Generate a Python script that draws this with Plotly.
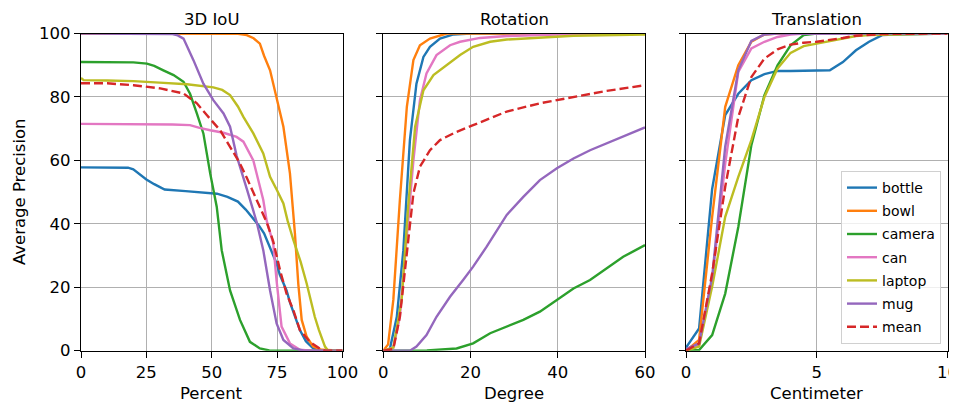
import plotly.graph_objects as go

# ---------------- data ----------------
NAMES = ["bottle", "bowl", "camera", "can", "laptop", "mug", "mean"]
COLORS = ["#1f77b4", "#ff7f0e", "#2ca02c", "#e377c2", "#bcbd22", "#9467bd", "#d62728"]

PANEL_TITLES = ["3D IoU", "Rotation", "Translation"]
X_TITLES = ["Percent", "Degree", "Centimeter"]
Y_TITLE = "Average Precision"

X_TICKS_IOU = [0, 25, 50, 75, 100]
X_TICKS_ROT = [0, 20, 40, 60]
X_TICKS_TRANS = [0, 5, 10]
Y_TICKS = [0, 20, 40, 60, 80, 100]

# Panel 1: 3D IoU
IOU_BOTTLE_X = [0, 10, 18, 20, 22, 25, 28, 32, 40, 50, 52, 56, 60, 63, 65.3, 68, 70, 72, 74.8, 76, 78.6, 80, 82, 83.7, 86, 88.8, 92, 100]
IOU_BOTTLE_Y = [57.8, 57.8, 57.7, 57.2, 56, 54, 52.5, 50.8, 50.3, 49.8, 49.5, 48.5, 47, 44.5, 42.2, 39.5, 37, 33, 27.5, 24, 19, 15, 10, 6.5, 3, 0.7, 0.1, 0]
IOU_BOWL_X = [0, 55, 60, 63.4, 66, 68.4, 70, 72.3, 74.8, 77.4, 79.9, 81.8, 83.1, 84.4, 86.3, 88.8, 92, 100]
IOU_BOWL_Y = [100, 100, 99.9, 99.5, 98.5, 96.8, 93, 88.4, 80, 70.6, 55.9, 37, 21, 9.7, 4.4, 1.3, 0.3, 0]
IOU_CAMERA_X = [0, 15, 20, 25.2, 28, 31.5, 35.4, 39.2, 41.7, 44.3, 46.8, 49.4, 51.9, 53.8, 57, 60.8, 64.6, 68.4, 72, 100]
IOU_CAMERA_Y = [91, 91, 90.9, 90.5, 89.8, 88.4, 86.9, 84.8, 81, 74.8, 68.5, 55.9, 45.4, 31.7, 19, 9.7, 2.8, 0.7, 0.1, 0]
IOU_CAN_X = [0, 20, 35, 41.7, 45, 49.4, 54.5, 59.5, 62.1, 65.9, 68.4, 69.7, 71, 73.5, 74.8, 76.7, 79.9, 83.7, 88, 100]
IOU_CAN_Y = [71.5, 71.5, 71.3, 71.1, 70.3, 69.5, 68.7, 67.4, 65.9, 60, 51.7, 47.5, 41, 33.9, 22, 7.6, 2.3, 0.3, 0, 0]
IOU_LAPTOP_X = [0, 1, 10, 20.1, 30, 40.5, 50.6, 54, 57, 60, 62.1, 65.9, 69.7, 72.3, 75, 77.4, 79, 81.2, 84, 86.3, 89.4, 91, 93.3, 94.5, 100]
IOU_LAPTOP_Y = [86, 85.3, 85.2, 85, 84.5, 84, 83, 82.2, 80.6, 77, 73.7, 68.5, 62.2, 54.8, 50.5, 46.4, 41, 34.9, 28, 21.2, 10.7, 6.5, 1.3, 0, 0]
IOU_MUG_X = [0, 30, 35, 37, 39.2, 43, 46.8, 50.6, 54.5, 57, 59.5, 63.4, 67.2, 69.7, 72.3, 74.8, 77.4, 81.2, 85, 100]
IOU_MUG_Y = [100, 100, 99.8, 99.4, 98.4, 91.6, 84.2, 79, 74.8, 70.6, 61.5, 51, 40.5, 31.7, 19, 8.6, 3.4, 0.7, 0.1, 0]
IOU_MEAN_X = [0, 10, 20.1, 30.3, 39.2, 44.3, 48.1, 53.2, 58.3, 60.8, 63.4, 68.4, 71, 73.5, 76.1, 78.6, 81.2, 83.7, 87.5, 91.3, 93.3, 100]
IOU_MEAN_Y = [84.3, 84.3, 83.7, 82.7, 81.1, 78, 74.3, 69.5, 62.5, 59, 54.5, 45.5, 40.5, 34.5, 25.4, 18, 12.8, 6.5, 2.8, 0.7, 0, 0]

# Panel 2: Rotation
ROT_BOTTLE_X = [0, 1.5, 3.1, 4.6, 6.1, 7.6, 9.2, 10.7, 13, 16.1, 20, 60]
ROT_BOTTLE_Y = [0, 0.5, 10.7, 31.7, 66.4, 84.2, 92.6, 95.8, 98.4, 99.7, 100, 100]
ROT_BOWL_X = [0, 1.1, 2.3, 3.8, 5.4, 6.9, 8.4, 10.7, 14.5, 60]
ROT_BOWL_Y = [0, 2, 16, 47.5, 76.9, 91.6, 96.3, 98.4, 100, 100]
ROT_CAMERA_X = [0, 10, 16.8, 20.6, 24.5, 28.3, 32.1, 35.9, 39.8, 43.6, 47.4, 51.2, 55, 60]
ROT_CAMERA_Y = [0, 0.1, 0.7, 2.3, 5.5, 7.6, 9.7, 12.3, 16, 19.6, 22.3, 25.9, 29.6, 33.3]
ROT_CAN_X = [0, 2.3, 3.8, 5.4, 6.9, 8.4, 9.9, 12.2, 15.3, 17.6, 22.2, 28.3, 40, 60]
ROT_CAN_Y = [0, 1, 10.7, 34.9, 60, 79, 87.4, 93.2, 96.3, 97.4, 98.6, 99.2, 99.7, 100]
ROT_LAPTOP_X = [0, 2.3, 4.2, 5.7, 7.3, 9.2, 11.5, 14.5, 17.6, 20.6, 24.5, 28.3, 35.9, 43.6, 60]
ROT_LAPTOP_Y = [0, 1, 16, 45.4, 70.6, 82.1, 86.9, 90, 93.2, 95.8, 97.4, 98.1, 98.6, 99.3, 99.7]
ROT_MUG_X = [0, 6.1, 7.6, 9.9, 12.2, 15.3, 18.3, 20.6, 23.7, 26, 28.3, 32.1, 35.9, 39.8, 43.6, 47.4, 51.2, 55, 60]
ROT_MUG_Y = [0, 0, 1.3, 4.9, 10.7, 17, 22.3, 26.5, 32.8, 38, 42.8, 48.5, 53.8, 57.5, 60.6, 63.2, 65.3, 67.4, 70.4]
ROT_MEAN_X = [0, 2.3, 3.8, 5.4, 6.9, 8.4, 10.7, 13, 16.8, 20.6, 24.5, 28.3, 35.9, 43.6, 51.2, 60]
ROT_MEAN_Y = [0, 0.5, 10.7, 31.7, 49.6, 58, 63.2, 66.4, 69, 71.1, 73.2, 75.4, 78, 80, 81.9, 83.7]

# Panel 3: Translation
TRANS_X = [0, 0.5, 1, 1.5, 2, 2.5, 3, 3.5, 4, 4.5, 5, 5.5, 6, 6.5, 7, 7.5, 8, 8.5, 9, 9.5, 10]
TRANS_BOTTLE_Y = [1, 7, 51, 74.3, 81, 85.3, 87.2, 88.2, 88.2, 88.3, 88.3, 88.4, 91, 94.7, 97.4, 99.5, 99.7, 99.8, 99.9, 100, 100]
TRANS_BOWL_Y = [0, 3.4, 42.2, 76.9, 90, 97.4, 99.7, 100, 100, 100, 100, 100, 100, 100, 100, 100, 100, 100, 100, 100, 100]
TRANS_CAMERA_Y = [0, 0.2, 4.9, 18, 39, 64.8, 80.6, 90, 96.3, 99.5, 100, 100, 100, 100, 100, 100, 100, 100, 100, 100, 100]
TRANS_CAN_Y = [0, 1.8, 22.3, 59, 87.9, 95.3, 97.4, 98.9, 99.7, 100, 100, 100, 100, 100, 100, 100, 100, 100, 100, 100, 100]
TRANS_LAPTOP_Y = [0, 1.3, 20.2, 42.2, 54.8, 66.4, 80, 89, 93.9, 96, 96.8, 97.6, 98.4, 99.2, 99.5, 99.6, 99.7, 99.8, 99.9, 100, 100]
TRANS_MUG_Y = [0.5, 2.3, 23.3, 64.3, 88.4, 97.7, 99.7, 100, 100, 100, 100, 100, 100, 100, 100, 100, 100, 100, 100, 100, 100]
TRANS_MEAN_Y = [0, 2.3, 24.4, 51.7, 73.7, 86.3, 92.1, 95, 96.5, 97.1, 97.4, 97.9, 98.6, 99.3, 99.6, 99.8, 99.9, 99.9, 100, 100, 100]

IOU_SERIES = [(IOU_BOTTLE_X, IOU_BOTTLE_Y), (IOU_BOWL_X, IOU_BOWL_Y), (IOU_CAMERA_X, IOU_CAMERA_Y),
              (IOU_CAN_X, IOU_CAN_Y), (IOU_LAPTOP_X, IOU_LAPTOP_Y), (IOU_MUG_X, IOU_MUG_Y),
              (IOU_MEAN_X, IOU_MEAN_Y)]
ROT_SERIES = [(ROT_BOTTLE_X, ROT_BOTTLE_Y), (ROT_BOWL_X, ROT_BOWL_Y), (ROT_CAMERA_X, ROT_CAMERA_Y),
              (ROT_CAN_X, ROT_CAN_Y), (ROT_LAPTOP_X, ROT_LAPTOP_Y), (ROT_MUG_X, ROT_MUG_Y),
              (ROT_MEAN_X, ROT_MEAN_Y)]
TRANS_SERIES = [(TRANS_X, TRANS_BOTTLE_Y), (TRANS_X, TRANS_BOWL_Y), (TRANS_X, TRANS_CAMERA_Y),
                (TRANS_X, TRANS_CAN_Y), (TRANS_X, TRANS_LAPTOP_Y), (TRANS_X, TRANS_MUG_Y),
                (TRANS_X, TRANS_MEAN_Y)]

# ---------------- figure ----------------
# The page body has an 8px default margin, so the figure starts at (8, 8) in the window.
OFF = 8
W, H = 957, 403
FONT = "DejaVu Sans"


def px_x(v):
    return (v - OFF) / W


def px_y(v):
    return 1 - (v - OFF) / H


X_DOMAINS = [[px_x(81), px_x(342.5)], [px_x(383.3), px_x(645)], [px_x(686), px_x(947.5)]]
Y_DOMAIN = [px_y(350.7), px_y(33.5)]
X_RANGES = [[0, 100], [0, 60], [0, 10]]
X_TICKS = [X_TICKS_IOU, X_TICKS_ROT, X_TICKS_TRANS]

fig = go.Figure()
for p, series in enumerate([IOU_SERIES, ROT_SERIES, TRANS_SERIES]):
    xa = "x" if p == 0 else f"x{p + 1}"
    ya = "y" if p == 0 else f"y{p + 1}"
    for i, (xs, ys) in enumerate(series):
        fig.add_trace(go.Scatter(
            x=xs, y=ys, mode="lines", name=NAMES[i],
            line=dict(color=COLORS[i], width=2.4,
                      dash="9px,4px" if NAMES[i] == "mean" else "solid"),
            xaxis=xa, yaxis=ya, showlegend=(p == 0), legendgroup=NAMES[i],
            hoverinfo="skip",
        ))

axis_common = dict(
    showline=True, mirror=True, linecolor="black", linewidth=1.3,
    showgrid=True, gridcolor="#b0b0b0", gridwidth=1.3, zeroline=False,
    ticks="outside", ticklen=6, tickwidth=1.3, tickcolor="black",
    tickfont=dict(family=FONT, size=16.5, color="black"),
    automargin=False, ticklabeloverflow="allow",
)

layout = dict(
    template="none",
    width=W, height=H, margin=dict(l=0, r=0, t=0, b=0, pad=0, autoexpand=False),
    paper_bgcolor="white", plot_bgcolor="white",
    font=dict(family=FONT, color="black"),
    legend=dict(x=px_x(941), xanchor="right", y=px_y(344), yanchor="bottom",
                bgcolor="rgba(255,255,255,0.8)", bordercolor="#d0d0d0", borderwidth=1,
                font=dict(family=FONT, size=14, color="black"), tracegroupgap=2,
                itemclick=False, itemdoubleclick=False),
)
annotations = []
for p in range(3):
    xk = "xaxis" if p == 0 else f"xaxis{p + 1}"
    yk = "yaxis" if p == 0 else f"yaxis{p + 1}"
    layout[xk] = dict(axis_common, domain=X_DOMAINS[p], range=X_RANGES[p],
                      tickvals=X_TICKS[p], anchor="y" if p == 0 else f"y{p + 1}")
    layout[yk] = dict(axis_common, domain=Y_DOMAIN, range=[0, 100], tickvals=Y_TICKS,
                      showticklabels=(p == 0), anchor="x" if p == 0 else f"x{p + 1}")
    cx = (X_DOMAINS[p][0] + X_DOMAINS[p][1]) / 2
    annotations.append(dict(text=PANEL_TITLES[p], x=cx, y=px_y(19), xref="paper", yref="paper",
                            xanchor="center", yanchor="middle", showarrow=False,
                            font=dict(family=FONT, size=16.5, color="black")))
    annotations.append(dict(text=X_TITLES[p], x=cx, y=px_y(393), xref="paper", yref="paper",
                            xanchor="center", yanchor="middle", showarrow=False,
                            font=dict(family=FONT, size=16.5, color="black")))
annotations.append(dict(text=Y_TITLE, x=px_x(19), y=(Y_DOMAIN[0] + Y_DOMAIN[1]) / 2,
                        xref="paper", yref="paper", xanchor="center", yanchor="middle",
                        textangle=-90, showarrow=False,
                        font=dict(family=FONT, size=16.5, color="black")))
layout["annotations"] = annotations
fig.update_layout(**layout)

fig.write_html("out.html")
